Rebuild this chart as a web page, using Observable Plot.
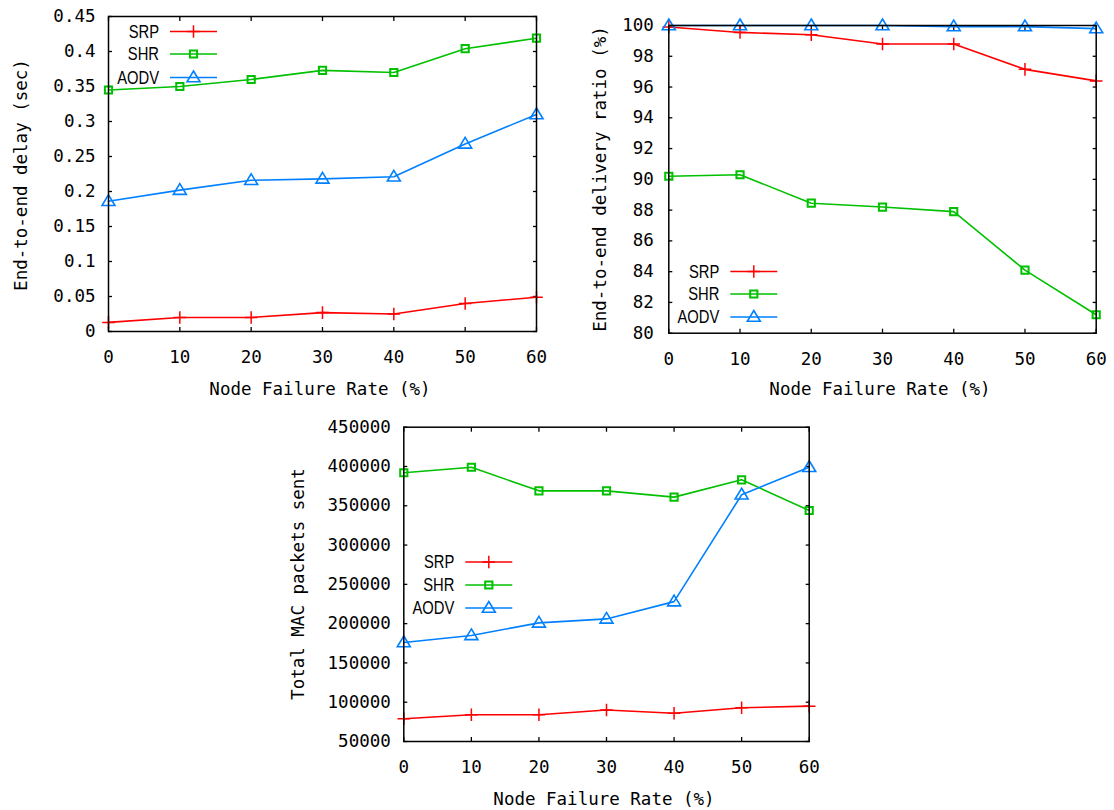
<!DOCTYPE html>
<html>
<head>
<meta charset="utf-8">
<script src="https://cdn.jsdelivr.net/npm/d3@7"></script>
<script src="https://cdn.jsdelivr.net/npm/@observablehq/plot@0.6"></script>
<style>
  html, body { margin: 0; padding: 0; background: #fff; }
  #page { position: relative; width: 1114px; height: 810px; overflow: hidden; background: #fff; }
  #page svg.panel { position: absolute; max-width: none; }
</style>
</head>
<body>
<div id="page"></div>
<script>
// ---------- data ----------
const failureRates = [0, 10, 20, 30, 40, 50, 60];
const protocols = ["SRP", "SHR", "AODV"];
const protocolColors = ["#ff0000", "#00c000", "#0080ff"];

const delaySRP  = [0.013, 0.020, 0.020, 0.027, 0.025, 0.040, 0.049];
const delaySHR  = [0.345, 0.350, 0.360, 0.373, 0.370, 0.404, 0.419];
const delayAODV = [0.186, 0.202, 0.216, 0.218, 0.221, 0.268, 0.310];

const ratioSRP  = [99.9, 99.55, 99.4, 98.8, 98.8, 97.15, 96.4];
const ratioSHR  = [90.2, 90.3, 88.45, 88.2, 87.9, 84.1, 81.2];
const ratioAODV = [100, 100, 100, 100, 99.93, 99.93, 99.8];

const macSRP  = [79000, 84000, 84000, 90000, 86000, 93000, 95000];
const macSHR  = [392000, 399000, 369000, 369000, 361000, 383000, 344000];
const macAODV = [176000, 185000, 201000, 206000, 228000, 364000, 399000];

const xTicks = [0, 10, 20, 30, 40, 50, 60];
const delayTicks = [0, 0.05, 0.1, 0.15, 0.2, 0.25, 0.3, 0.35, 0.4, 0.45];
const ratioTicks = [80, 82, 84, 86, 88, 90, 92, 94, 96, 98, 100];
const macTicks = [50000, 100000, 150000, 200000, 250000, 300000, 350000, 400000, 450000];

const xTitle = "Node Failure Rate (%)";
const delayTitle = "End-to-end delay (sec)";
const ratioTitle = "End-to-end delivery ratio (%)";
const macTitle = "Total MAC packets sent";

// ---------- styles ----------
const MONO = "'DejaVu Sans Mono', 'Liberation Mono', monospace";
const SANS = "'Liberation Sans', Arial, sans-serif";
const FS = 17.5;

// custom gnuplot-like point symbols (size = PI * r^2)
const plusSymbol = { draw(ctx, size) { const r = Math.sqrt(size / Math.PI); ctx.moveTo(-r, 0); ctx.lineTo(r, 0); ctx.moveTo(0, -r); ctx.lineTo(0, r); } };
const squareSymbol = { draw(ctx, size) { const r = Math.sqrt(size / Math.PI); ctx.moveTo(-r, -r); ctx.lineTo(r, -r); ctx.lineTo(r, r); ctx.lineTo(-r, r); ctx.closePath(); } };
const triangleSymbol = { draw(ctx, size) { const r = Math.sqrt(size / Math.PI); ctx.moveTo(0, -r); ctx.lineTo(r, 0.65 * r); ctx.lineTo(-r, 0.65 * r); ctx.closePath(); } };
const symbols = [plusSymbol, squareSymbol, triangleSymbol];
const symbolR = [6.3, 3.6, 6.5];
const symbolW = [1.5, 2, 1.6];

const page = document.getElementById("page");

function panel(cfg) {
  const rows = [];
  cfg.series.forEach((vals, i) => vals.forEach((v, j) => rows.push({protocol: protocols[i], rate: failureRates[j], value: v})));
  const seriesMarks = [];
  protocols.forEach((p, i) => {
    const d = rows.filter(r => r.protocol === p);
    seriesMarks.push(Plot.line(d, {x: "rate", y: "value", stroke: "protocol", strokeWidth: 1.6}));
    seriesMarks.push(Plot.dot(d, {x: "rate", y: "value", stroke: "protocol", fill: "none", symbol: symbols[i], r: symbolR[i], strokeWidth: symbolW[i]}));
  });
  const blank = () => "";
  const svg = Plot.plot({
    width: cfg.width, height: cfg.height,
    marginLeft: cfg.m[0], marginRight: cfg.m[1], marginTop: cfg.m[2], marginBottom: cfg.m[3],
    style: {background: "white", fontFamily: MONO, fontSize: FS + "px", color: "black", overflow: "visible"},
    x: {domain: [0, 60]},
    y: {domain: cfg.yDomain},
    color: {domain: protocols, range: protocolColors},
    marks: [
      Plot.axisX({anchor: "bottom", ticks: xTicks, tickSize: -4, tickFormat: blank, label: null, strokeWidth: 1.3}),
      Plot.axisX({anchor: "top", ticks: xTicks, tickSize: -4, tickFormat: blank, label: null, strokeWidth: 1.3}),
      Plot.axisY({anchor: "left", ticks: cfg.yTicks, tickSize: -4, tickFormat: blank, label: null, strokeWidth: 1.3}),
      Plot.axisY({anchor: "right", ticks: cfg.yTicks, tickSize: -4, tickFormat: blank, label: null, strokeWidth: 1.3}),
      Plot.axisX({anchor: "bottom", ticks: xTicks, tickSize: 0, tickPadding: 19, tickFormat: d => String(d), label: null}),
      Plot.axisY({anchor: "left", ticks: cfg.yTicks, tickSize: 0, tickPadding: cfg.yPad, tickFormat: d => String(d), label: null}),
      ...seriesMarks,
      Plot.frame({stroke: "black", strokeWidth: 1.5})
    ]
  });
  svg.classList.add("panel");
  svg.style.left = cfg.left + "px";
  svg.style.top = cfg.top + "px";
  page.appendChild(svg);
  const s = d3.select(svg);
  // axis titles
  s.append("text").attr("x", cfg.xTitlePos[0]).attr("y", cfg.xTitlePos[1]).attr("dy", "0.36em")
    .attr("text-anchor", "middle").attr("font-family", MONO).attr("font-size", FS).attr("fill", "black").text(xTitle);
  s.append("text").attr("transform", `translate(${cfg.yTitlePos[0]},${cfg.yTitlePos[1]}) rotate(-90)`).attr("dy", "0.36em")
    .attr("text-anchor", "middle").attr("font-family", MONO).attr("font-size", FS).attr("fill", "black").text(cfg.yTitle);
  // legend
  const fl = cfg.m[0];
  const lg = s.append("g").attr("class", "legend");
  protocols.forEach((p, i) => {
    const y = cfg.legendY[i];
    const t = lg.append("text").attr("x", fl + 51).attr("y", y).attr("dy", "0.36em").attr("text-anchor", "end")
      .attr("font-family", SANS).attr("font-size", 18).attr("fill", "black").text(p);
    const w = t.node().getComputedTextLength();
    if (w > 0) t.attr("textLength", w * 0.82).attr("lengthAdjust", "spacingAndGlyphs");
    lg.append("line").attr("x1", fl + 62).attr("x2", fl + 109).attr("y1", y).attr("y2", y)
      .attr("stroke", protocolColors[i]).attr("stroke-width", 1.6);
    lg.append("path").attr("transform", `translate(${fl + 85.5},${y})`)
      .attr("d", d3.symbol().type(symbols[i]).size(Math.PI * symbolR[i] * symbolR[i])())
      .attr("fill", "none").attr("stroke", protocolColors[i]).attr("stroke-width", symbolW[i]);
  });
}

panel({
  left: 0, top: 0, width: 557, height: 405, m: [108, 21, 16, 74],
  yDomain: [0, 0.45], yTicks: delayTicks, yPad: 13,
  series: [delaySRP, delaySHR, delayAODV],
  yTitle: delayTitle, xTitlePos: [320, 389], yTitlePos: [21, 175],
  legendY: [31.5, 54, 77.5]
});
panel({
  left: 557, top: 0, width: 557, height: 405, m: [111.3, 18.3, 25, 72.3],
  yDomain: [80, 100], yTicks: ratioTicks, yPad: 15,
  series: [ratioSRP, ratioSHR, ratioAODV],
  yTitle: ratioTitle, xTitlePos: [323, 389], yTitlePos: [43, 179],
  legendY: [271.5, 294, 317]
});
panel({
  left: 280, top: 405, width: 557, height: 405, m: [123.3, 28.3, 21.7, 69],
  yDomain: [50000, 450000], yTicks: macTicks, yPad: 13,
  series: [macSRP, macSHR, macAODV],
  yTitle: macTitle, xTitlePos: [324, 394], yTitlePos: [18, 179],
  legendY: [157, 180, 203]
});
</script>
</body>
</html>
